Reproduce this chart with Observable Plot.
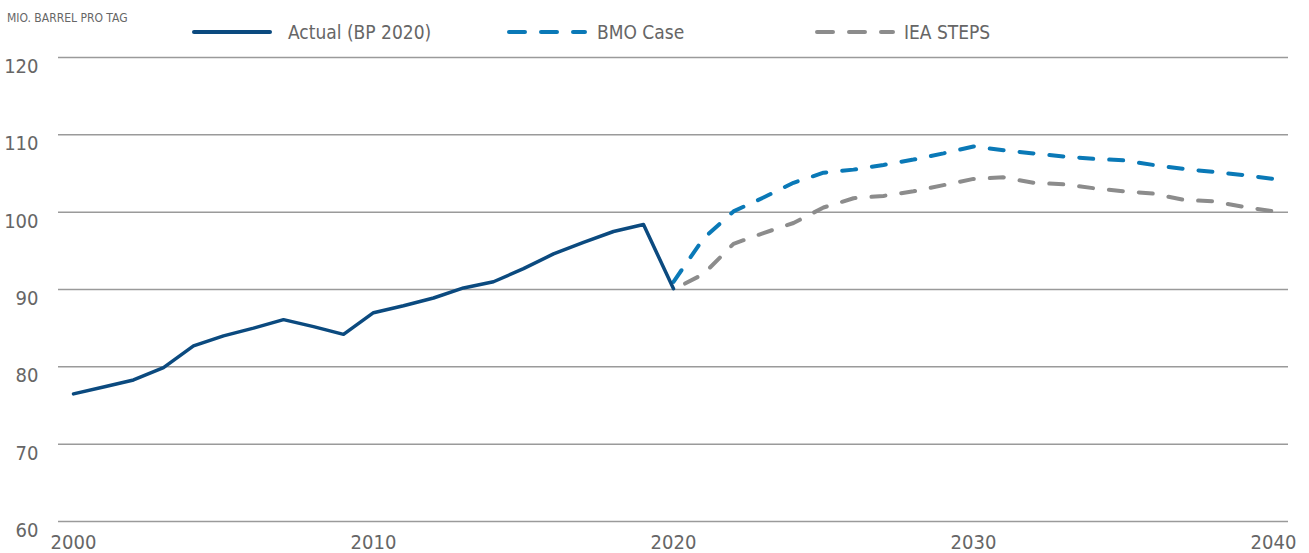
<!DOCTYPE html>
<html>
<head>
<meta charset="utf-8">
<script src="https://cdn.jsdelivr.net/npm/d3@7"></script>
<script src="https://cdn.jsdelivr.net/npm/@observablehq/plot@0.6"></script>
<style>
  body { margin: 0; background: #fff; }
  #legend, #chart { display: block; }
  svg text { font-family: "Liberation Sans Narrow", "DejaVu Sans Condensed", "Roboto", sans-serif; }
</style>
</head>
<body>
<svg id="legend" width="1309" height="50"></svg>
<div id="chart"></div>
<script>
// ---- data ----
const unitLabel = "MIO. BARREL PRO TAG";
const seriesNames = ["Actual (BP 2020)", "BMO Case", "IEA STEPS"];
const actualYears = d3.range(2000, 2021);
const actualValues = [76.5, 77.4, 78.3, 79.9, 82.7, 84.0, 85.0, 86.1, 85.2, 84.2, 87.0, 87.9, 88.9, 90.2, 91.0, 92.7, 94.6, 96.1, 97.5, 98.4, 90.1];
const forecastYears = d3.range(2020, 2041);
const bmoValues = [91.0, 96.6, 100.1, 101.9, 103.8, 105.1, 105.5, 106.1, 106.8, 107.6, 108.5, 108.0, 107.6, 107.2, 106.9, 106.7, 106.1, 105.6, 105.2, 104.8, 104.3];
const ieaValues = [90.0, 92.0, 95.9, 97.3, 98.6, 100.6, 101.8, 102.1, 102.7, 103.5, 104.3, 104.5, 103.8, 103.6, 103.1, 102.7, 102.4, 101.6, 101.4, 100.7, 100.1];
const yTicks = [60, 70, 80, 90, 100, 110, 120];
const xTicks = [2000, 2010, 2020, 2030, 2040];

const colors = ["#0b4a7f", "#0a79b7", "#8c8c8c"];
const textColor = "#666666";
const fontFamily = '"Liberation Sans Narrow", "DejaVu Sans Condensed", Roboto, sans-serif';

const actual = actualYears.map((year, i) => ({year, value: actualValues[i]}));
const bmo = forecastYears.map((year, i) => ({year, value: bmoValues[i]}));
const iea = forecastYears.map((year, i) => ({year, value: ieaValues[i]}));

// ---- legend (above the chart) ----
const lg = d3.select("#legend");
lg.append("text").attr("x", 7).attr("y", 18).attr("dominant-baseline", "middle")
  .attr("font-size", 12).attr("fill", textColor).text(unitLabel);
const legendItems = [
  {x1: 194, x2: 270, tx: 288, dash: null},
  {x1: 509, x2: 585, tx: 597, dash: "16,16"},
  {x1: 817, x2: 893, tx: 904, dash: "16,16"}
];
legendItems.forEach((d, i) => {
  lg.append("line").attr("x1", d.x1).attr("x2", d.x2).attr("y1", 32).attr("y2", 32)
    .attr("stroke", colors[i]).attr("stroke-width", 4).attr("stroke-linecap", "round")
    .attr("stroke-dasharray", d.dash);
  lg.append("text").attr("x", d.tx).attr("y", 33).attr("dominant-baseline", "middle")
    .attr("font-size", 19).attr("fill", textColor).text(seriesNames[i]);
});

// ---- chart ----
const chart = Plot.plot({
  width: 1309,
  height: 503,
  marginTop: 7,
  marginBottom: 32,
  marginLeft: 73,
  marginRight: 36,
  style: {fontFamily, fontSize: "20px", color: textColor, background: "#fff", overflow: "visible"},
  x: {domain: [2000, 2040]},
  y: {domain: [60, 120]},
  marks: [
    Plot.ruleY(yTicks, {x1: 1999.5, x2: 2040.5, stroke: "#9a9a9a", strokeWidth: 1.5}),
    Plot.axisY(yTicks, {tickSize: 0, tickPadding: 35, dy: 9, label: null, fill: textColor, fontSize: 20}),
    Plot.axisX(xTicks, {tickSize: 0, tickPadding: 13, tickFormat: d => String(d), label: null, fill: textColor, fontSize: 20}),
    Plot.line(iea, {x: "year", y: "value", stroke: colors[2], strokeWidth: 4, strokeDasharray: "14,16", strokeDashoffset: -13, strokeLinecap: "round", strokeLinejoin: "round"}),
    Plot.line(bmo, {x: "year", y: "value", stroke: colors[1], strokeWidth: 4, strokeDasharray: "14,16", strokeLinecap: "round", strokeLinejoin: "round"}),
    Plot.line(actual, {x: "year", y: "value", stroke: colors[0], strokeWidth: 3.5, strokeLinecap: "round", strokeLinejoin: "round"})
  ]
});
document.getElementById("chart").appendChild(chart);
</script>
</body>
</html>
